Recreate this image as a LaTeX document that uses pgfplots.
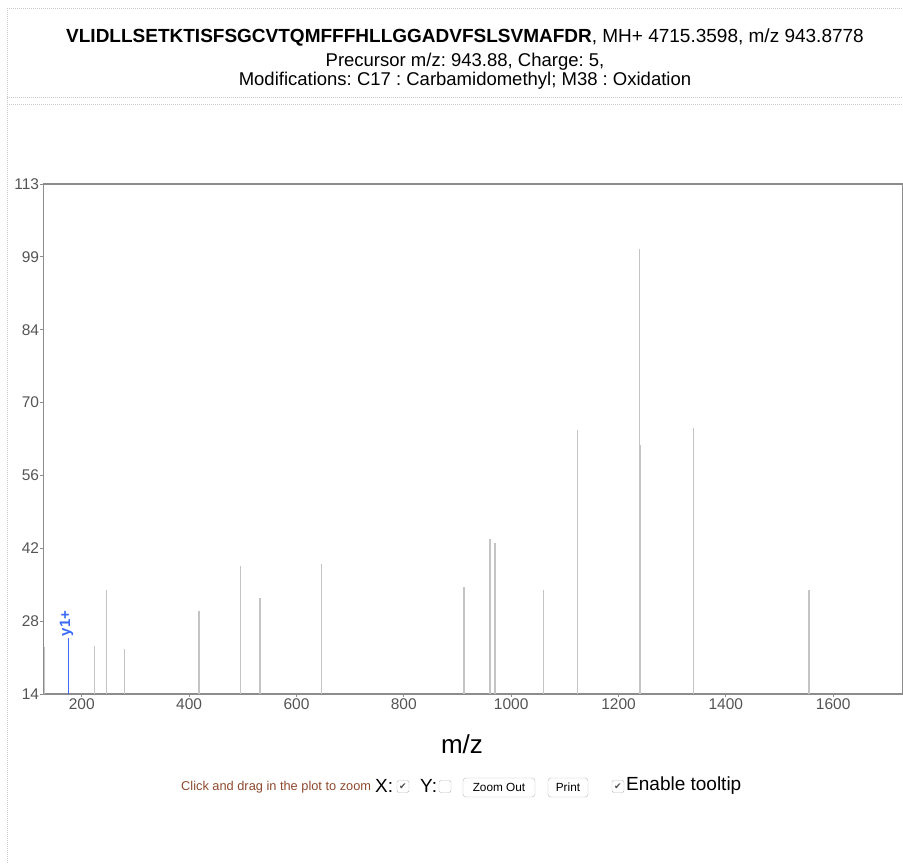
\documentclass[border=0pt]{standalone}
\usepackage{fontspec}
\setmainfont{Liberation Sans}
\newfontfamily\symfont{DejaVu Sans}
\usepackage{pgfplots}
\pgfplotsset{compat=1.18}
\definecolor{peak}{HTML}{C4C4C4}
\definecolor{axgray}{HTML}{8C8C8C}
\definecolor{ticktxt}{HTML}{545454}
\definecolor{ionblue}{HTML}{3A6AF6}
\definecolor{dotgray}{HTML}{C9CDCF}
\definecolor{brownish}{HTML}{8E4A2E}
\definecolor{btn}{HTML}{B8B8B8}
\frenchspacing
\begin{document}
\begin{tikzpicture}[x=1pt,y=1pt]
\path[use as bounding box] (0,0) rectangle (903,863);
% page frames (dotted)
\draw[dotgray, line width=0.8pt, dash pattern=on 1pt off 1pt] (7,855) -- (903,855);
\draw[dotgray, line width=0.8pt, dash pattern=on 1pt off 1pt] (7,855) -- (7,0);
\draw[dotgray, line width=0.8pt, dash pattern=on 1pt off 1pt] (7,765.3) -- (903,765.3);
\draw[dotgray, line width=0.8pt, dash pattern=on 1pt off 1pt] (7,759) -- (903,759);
% header
\node[anchor=center, font=\fontsize{19}{22}\selectfont] at (465,825.5)
  {\textbf{VLIDLLSETKTISFSGCVTQMFFFHLLGGADVFSLSVMAFDR}, MH+ 4715.3598, m/z 943.8778};
\node[anchor=center, font=\fontsize{18.5}{22}\selectfont] at (465,801.5)
  {Precursor m/z: 943.88, Charge: 5,};
\node[anchor=center, font=\fontsize{18.5}{22}\selectfont] at (465,782)
  {Modifications: C17 : Carbamidomethyl; M38 : Oxidation};
\begin{axis}[
  at={(43.3pt,169pt)}, anchor=south west,
  width=859.7pt, height=510pt, scale only axis,
  xmin=128.4, xmax=1730, ymin=14, ymax=113,
  xtick={200,400,600,800,1000,1200,1400,1600},
  ytick={14,28.142857,42.285714,56.428571,70.571429,84.714286,98.857143,113},
  yticklabels={14,28,42,56,70,84,99,113},
  xtick pos=bottom, ytick pos=left,
  tick align=outside, major tick length=3pt,
  tick style={axgray, line width=0.8pt},
  axis line style={axgray, line width=1.4pt},
  /pgf/number format/assume math mode=true,
  /pgf/number format/1000 sep={},
  ticklabel style={font=\fontsize{15.5}{18}\selectfont, text=ticktxt},
  yticklabel style={inner sep=1pt},
  xticklabel style={inner sep=1.5pt},
  clip=true,
]
\addplot[ycomb, peak, line width=1.3pt, no markers] coordinates {
(130.3,23.2) (223.5,23.3) (245.8,34.2) (280,22.7) (418.6,30.2)
(496.3,38.8) (532.2,32.6) (646.5,39.2) (912,34.7) (960.8,44.0)
(970,43.4) (1060,34.2) (1124.2,65.2) (1238.5,100.4) (1240.7,62.3)
(1339.6,65.6) (1554.6,34.2)
};
\addplot[ycomb, ionblue, line width=1.5pt, no markers] coordinates {
(175.1,24.8)
};
\node[rotate=90, anchor=west, text=ionblue, font=\fontsize{15}{17}\selectfont\bfseries, inner sep=1pt] at (axis cs:171.5,25.0) {y1+};
\end{axis}
% x label
\node[font=\fontsize{26}{30}\selectfont] at (462,119) {m/z};
% controls row
\node[anchor=west, text=brownish, font=\fontsize{12.8}{15}\selectfont, inner sep=0pt] at (181,76) {Click and drag in the plot to zoom};
\node[anchor=west, font=\fontsize{19}{22}\selectfont, inner sep=0pt] at (375,77.5) {X:};
\draw[btn, fill=white, rounded corners=1.5pt] (397,70.5) rectangle (409,82.5);
\node[font=\symfont\fontsize{9}{10}\selectfont, text=black!70, inner sep=0pt] at (403,76.5) {✔};
\node[anchor=west, font=\fontsize{19}{22}\selectfont, inner sep=0pt] at (420,77.5) {Y:};
\draw[btn, fill=white, rounded corners=1.5pt] (439,70.5) rectangle (451,82.5);
\draw[btn, fill=white, rounded corners=3pt] (463,66) rectangle (535,85);
\node[font=\fontsize{11.8}{13}\selectfont, inner sep=0pt] at (499,75.5) {Zoom Out};
\draw[btn, fill=white, rounded corners=3pt] (548,66) rectangle (588,85);
\node[font=\fontsize{11.8}{13}\selectfont, inner sep=0pt] at (568,75.5) {Print};
\draw[btn, fill=white, rounded corners=1.5pt] (612,70.5) rectangle (624,82.5);
\node[font=\symfont\fontsize{9}{10}\selectfont, text=black!70, inner sep=0pt] at (618,76.5) {✔};
\node[anchor=west, font=\fontsize{19}{22}\selectfont, inner sep=0pt] at (626,77.5) {Enable tooltip};
\end{tikzpicture}
\end{document}
